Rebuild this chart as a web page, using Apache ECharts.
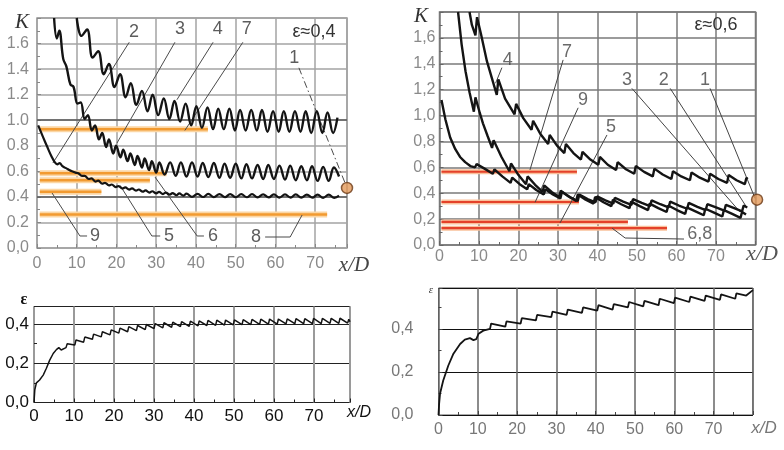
<!DOCTYPE html>
<html>
<head>
<meta charset="utf-8">
<title>K, ε — x/D</title>
<script src="https://cdn.jsdelivr.net/npm/echarts@6/dist/echarts.min.js"></script>
<style>body{margin:0;background:#fff}#main{width:784px;height:450px}</style>
</head>
<body>
<div id="main"></div>
<script>
// ---------- tick labels ----------
var xTicks = [0, 10, 20, 30, 40, 50, 60, 70];
var xTickLabels = ['0', '10', '20', '30', '40', '50', '60', '70'];
var kTicks = [0, 0.2, 0.4, 0.6, 0.8, 1.0, 1.2, 1.4, 1.6];
var kLabelsL = ['0,0', '0.2', '0.4', '0.6', '0.8', '1.0', '1.2', '1.4', '1.6'];
var kLabelsR = ['0,0', '0,2', '0,4', '0,6', '0,8', '1,0', '1,2', '1,4', '1,6'];
var epsTicks = [0, 0.2, 0.4];
var epsLabels = ['0,0', '0,2', '0,4'];

// ---------- top left, ε≈0,4 : K(x/D) ----------
var tlCurveUpper = [[10.0,1.80],[11.2,1.66],[12.6,1.71],[14.0,1.49],[15.4,1.54],[16.8,1.36],[18.1,1.44],[19.5,1.26],[20.9,1.36],[22.3,1.18],[23.6,1.29],[25.0,1.12],[26.4,1.23],[27.8,1.07],[29.1,1.20],[30.5,1.04],[31.9,1.17],[33.3,1.01],[34.6,1.15],[36.0,0.99],[37.4,1.13],[38.8,0.96],[40.1,1.11],[41.5,0.94],[42.9,1.10],[44.3,0.93],[45.6,1.09],[47.0,0.93],[48.4,1.09],[49.8,0.92],[51.1,1.08],[52.5,0.92],[53.9,1.08],[55.3,0.92],[56.6,1.08],[58.0,0.91],[59.4,1.07],[60.8,0.91],[62.1,1.07],[63.5,0.91],[64.9,1.07],[66.3,0.91],[67.6,1.07],[69.0,0.90],[70.4,1.07],[71.8,0.90],[73.1,1.06],[74.5,0.90],[75.6,1.02]];
var tlCurveMiddle = [[4.3,1.80],[5.0,1.64],[5.6,1.70],[6.6,1.48],[7.4,1.42],[8.4,1.28],[9.2,1.26],[10.2,1.13],[11.0,1.14],[12.0,1.01],[12.8,1.04],[13.8,0.92],[14.6,0.96],[15.6,0.85],[16.4,0.90],[17.4,0.79],[18.1,0.85],[19.2,0.74],[19.9,0.80],[21.0,0.71],[21.7,0.77],[22.8,0.68],[23.5,0.74],[24.6,0.65],[25.3,0.72],[26.4,0.63],[27.1,0.70],[28.2,0.61],[28.9,0.68],[30.0,0.59],[30.8,0.67],[32.1,0.575],[33.5,0.67],[34.9,0.565],[36.2,0.67],[37.6,0.56],[39.0,0.67],[40.4,0.56],[41.7,0.665],[43.1,0.555],[44.5,0.665],[45.9,0.55],[47.2,0.66],[48.6,0.55],[50.0,0.66],[51.4,0.545],[52.7,0.655],[54.1,0.545],[55.5,0.65],[56.9,0.54],[58.2,0.65],[59.6,0.54],[61.0,0.645],[62.4,0.535],[63.7,0.645],[65.1,0.53],[66.5,0.64],[67.9,0.53],[69.2,0.64],[70.6,0.525],[72.0,0.635],[73.4,0.525],[74.7,0.63],[76.0,0.56]];
var tlCurveLower = [[0.3,0.96],[1.5,0.87],[2.6,0.79],[3.6,0.72],[4.5,0.67],[5.1,0.655],[5.7,0.665],[6.4,0.64],[7.3,0.625],[8.1,0.61],[8.8,0.60],[9.7,0.59],[10.4,0.585],[11.3,0.565],[12.0,0.565],[13.0,0.54],[13.7,0.545],[14.7,0.52],[15.4,0.527],[16.4,0.503],[17.1,0.51],[18.1,0.49],[18.8,0.497],[19.8,0.477],[20.5,0.485],[21.5,0.466],[22.2,0.474],[23.2,0.457],[23.9,0.466],[24.9,0.449],[25.6,0.458],[26.6,0.441],[27.3,0.451],[28.3,0.434],[29.0,0.444],[30.0,0.428],[30.7,0.439],[31.7,0.422],[32.4,0.434],[33.4,0.417],[34.1,0.43],[35.1,0.413],[35.8,0.427],[36.8,0.41],[37.6,0.425],[39.0,0.40],[40.4,0.424],[41.8,0.399],[43.1,0.423],[44.5,0.398],[45.9,0.422],[47.3,0.398],[48.6,0.422],[50.0,0.397],[51.4,0.421],[52.8,0.397],[54.1,0.421],[55.5,0.396],[56.9,0.42],[58.3,0.396],[59.6,0.42],[61.0,0.395],[62.4,0.419],[63.8,0.395],[65.1,0.419],[66.5,0.394],[67.9,0.418],[69.3,0.394],[70.6,0.418],[72.0,0.393],[73.4,0.417],[74.8,0.393],[76.0,0.41]];
// horizontal levels: [K, from x/D, to x/D]
var tlLevels = [[0.93,0.7,43.0],[0.585,0.7,32.6],[0.53,0.7,28.4],[0.44,0.7,16.2],[0.262,0.7,73.0]];
var tlDot = [78.0, 0.47];
// callouts: label, label point, leader path (data units)
var tlNotes = [
  ['2', [24.4,1.69], [[23.2,1.61],[4.0,0.665]]],
  ['3', [36.0,1.71], [[34.7,1.61],[20.1,0.82]]],
  ['4', [45.5,1.71], [[44.3,1.61],[35.2,1.16]]],
  ['7', [52.8,1.71], [[51.8,1.61],[37.2,0.92]]],
  ['1', [64.7,1.49], [[65.9,1.41],[77.5,0.51]]],
  ['9', [14.6,0.094], [[12.6,0.094],[10.8,0.094],[3.8,0.43]]],
  ['5', [33.2,0.094], [[31.0,0.094],[28.9,0.094],[20.9,0.49]]],
  ['6', [44.3,0.094], [[42.0,0.094],[40.3,0.094],[29.7,0.555]]],
  ['8', [55.1,0.086], [[57.4,0.086],[63.7,0.086],[66.7,0.258]]]
];

// ---------- top right, ε≈0,6 : K(x/D) ----------
var trCurveUpper = [[7.6,1.80],[8.2,1.70],[9.1,1.62],[9.5,1.76],[10.5,1.63],[12.0,1.42],[14.5,1.16],[14.9,1.28],[16.6,1.13],[19.0,1.01],[19.4,1.09],[21.2,0.98],[23.3,0.89],[23.7,0.96],[25.5,0.86],[27.5,0.78],[27.9,0.85],[29.7,0.77],[31.6,0.71],[32.0,0.78],[33.9,0.71],[35.8,0.66],[36.2,0.72],[38.2,0.66],[40.2,0.62],[40.6,0.68],[42.6,0.62],[44.7,0.58],[45.1,0.64],[47.2,0.585],[49.3,0.55],[49.7,0.61],[51.8,0.565],[54.0,0.53],[54.4,0.59],[56.5,0.545],[58.7,0.51],[59.1,0.57],[61.2,0.53],[63.4,0.50],[63.8,0.56],[65.9,0.52],[68.1,0.49],[68.5,0.55],[70.6,0.51],[72.8,0.48],[73.2,0.54],[75.2,0.50],[77.3,0.47],[77.7,0.52],[78.0,0.51]];
var trCurveFromZero = [[0.5,1.12],[1.5,0.97],[2.7,0.83],[4.0,0.74],[5.2,0.68],[6.5,0.64],[7.8,0.61],[9.0,0.60],[9.4,0.625],[11.4,0.59],[13.5,0.55],[13.9,0.585],[15.9,0.53],[18.0,0.48],[18.4,0.52],[20.3,0.47],[22.2,0.43],[22.6,0.47],[24.5,0.425],[26.4,0.39],[26.8,0.43],[28.7,0.39],[30.6,0.36],[31.0,0.41],[33.0,0.37],[35.0,0.34],[35.4,0.39],[37.5,0.355],[39.5,0.33],[39.9,0.375],[42.0,0.345],[44.0,0.32],[44.4,0.365],[46.5,0.335],[48.6,0.31],[49.0,0.355],[51.2,0.325],[53.3,0.30],[53.7,0.345],[55.9,0.315],[58.0,0.29],[58.4,0.335],[60.6,0.305],[62.7,0.28],[63.1,0.325],[65.3,0.295],[67.4,0.27],[67.8,0.315],[70.0,0.29],[72.1,0.265],[72.5,0.31],[74.6,0.285],[76.6,0.26],[77.0,0.305],[77.9,0.29]];
var trCurveMiddle = [[4.7,1.80],[5.6,1.55],[6.6,1.34],[7.6,1.18],[8.7,1.03],[9.1,1.14],[10.2,1.02],[11.0,0.94],[12.2,0.84],[13.3,0.75],[13.7,0.81],[15.7,0.68],[17.7,0.57],[18.1,0.63],[20.0,0.54],[21.9,0.47],[22.3,0.53],[24.2,0.465],[26.1,0.41],[26.5,0.46],[28.4,0.41],[30.3,0.37],[30.7,0.42],[32.7,0.375],[34.6,0.34],[35.0,0.39],[37.0,0.35],[39.0,0.32],[39.4,0.37],[41.5,0.33],[43.5,0.30],[43.9,0.35],[46.0,0.315],[48.1,0.285],[48.5,0.335],[50.7,0.30],[52.8,0.27],[53.2,0.32],[55.4,0.285],[57.5,0.255],[57.9,0.305],[60.1,0.27],[62.2,0.24],[62.6,0.29],[64.8,0.26],[66.9,0.23],[67.3,0.28],[69.5,0.25],[71.6,0.22],[72.0,0.27],[74.1,0.24],[76.2,0.21],[76.6,0.255],[77.6,0.235]];
var trLevels = [[0.566,0.5,34.8],[0.332,0.5,35.3],[0.178,0.5,47.7],[0.13,0.5,57.6]];
var trDot = [80.4, 0.35];
var trNotes = [
  ['4', [17.3,1.43], [[15.8,1.37],[14.2,1.25]]],
  ['7', [32.3,1.49], [[31.3,1.43],[22.9,0.58]]],
  ['9', [36.3,1.12], [[35.1,1.06],[24.2,0.33]]],
  ['5', [43.4,0.91], [[42.4,0.85],[30.5,0.17]]],
  ['3', [47.5,1.275], [[48.7,1.21],[76.1,0.255]]],
  ['2', [56.8,1.275], [[58.4,1.21],[77.8,0.29]]],
  ['1', [67.2,1.275], [[68.5,1.21],[79.9,0.36]]],
  ['6,8', [65.9,0.085], [[61.9,0.046],[47.0,0.054],[43.7,0.13]]]
];

// ---------- bottom left : ε(x/D), ε≈0,4 ----------
var blEps = [[0,0],[0.2,0.065],[0.6,0.10],[1.4,0.115],[2.3,0.14],[3.1,0.175],[3.9,0.215],[4.8,0.25],[5.6,0.27],[6.2,0.28],[6.8,0.268],[8.0,0.28],[8.3,0.30],[10.2,0.293],[10.5,0.319],[12.4,0.308],[12.7,0.334],[14.6,0.323],[14.9,0.349],[16.8,0.335],[17.1,0.361],[19.0,0.345],[19.3,0.371],[21.2,0.354],[21.5,0.38],[23.4,0.361],[23.7,0.387],[25.6,0.367],[25.9,0.393],[27.8,0.372],[28.1,0.398],[30.0,0.377],[30.3,0.403],[32.2,0.381],[32.5,0.407],[34.4,0.384],[34.7,0.41],[36.6,0.387],[36.9,0.413],[38.8,0.389],[39.1,0.415],[41.0,0.391],[41.3,0.417],[43.2,0.393],[43.5,0.419],[45.4,0.394],[45.7,0.42],[47.6,0.395],[47.9,0.421],[49.8,0.396],[50.1,0.422],[52.0,0.397],[52.3,0.423],[54.2,0.398],[54.5,0.424],[56.4,0.399],[56.7,0.425],[58.6,0.40],[58.9,0.426],[60.8,0.40],[61.1,0.426],[63.0,0.401],[63.3,0.427],[65.2,0.402],[65.5,0.428],[67.4,0.402],[67.7,0.428],[69.6,0.403],[69.9,0.429],[71.8,0.403],[72.1,0.429],[74.0,0.404],[74.3,0.43],[76.2,0.404],[76.5,0.43],[78.4,0.405],[78.7,0.425],[79.0,0.412]];

// ---------- bottom right : ε(x/D), ε≈0,6 ----------
var brEps = [[0,0],[0.15,0.05],[0.4,0.10],[1.2,0.16],[2.5,0.23],[3.8,0.285],[5.5,0.33],[6.7,0.35],[8.0,0.357],[8.9,0.348],[9.6,0.352],[10.2,0.378],[11.4,0.392],[13.1,0.40],[13.4,0.425],[15.2,0.418],[17.0,0.41],[17.3,0.435],[20.9,0.425],[21.2,0.45],[24.8,0.44],[25.1,0.465],[28.7,0.455],[29.0,0.48],[32.6,0.465],[32.9,0.49],[36.5,0.475],[36.8,0.50],[40.4,0.485],[40.7,0.51],[44.3,0.49],[44.6,0.515],[48.2,0.50],[48.5,0.525],[52.1,0.505],[52.4,0.53],[56.0,0.51],[56.3,0.54],[59.9,0.52],[60.2,0.545],[63.8,0.525],[64.1,0.55],[67.7,0.53],[68.0,0.555],[71.6,0.535],[71.9,0.56],[75.5,0.54],[75.8,0.565],[78.3,0.555],[80.0,0.58]];

var SANS = '"Liberation Sans", Arial, sans-serif';
var SERIF = '"Liberation Serif", "Times New Roman", serif';

function pick(ticks, labels) {
  return function (v) {
    for (var i = 0; i < ticks.length; i++) {
      if (Math.abs(ticks[i] - v) < 1e-6) return labels[i];
    }
    return '';
  };
}

function xAx(g, max, c) {
  return {
    type: 'value', gridIndex: g, min: 0, max: max, interval: 10,
    axisLine: {show: false},
    axisTick: {show: true, inside: true, length: 4, lineStyle: {color: c.tick}},
    minorTick: {show: true, splitNumber: 2, length: 3, lineStyle: {color: c.tick}},
    axisLabel: {formatter: pick(xTicks, xTickLabels), color: c.label, fontSize: c.size,
      fontFamily: SANS, margin: c.margin},
    splitLine: {show: true, lineStyle: {color: c.grid, width: c.gridW}}
  };
}

function yAx(g, max, ticks, labels, c) {
  return {
    type: 'value', gridIndex: g, min: 0, max: max, interval: 0.2,
    axisLine: {show: false},
    axisTick: {show: true, inside: true, length: 4, lineStyle: {color: c.tick}},
    minorTick: {show: true, splitNumber: 2, length: 3, lineStyle: {color: c.tick}},
    axisLabel: {formatter: pick(ticks, labels), color: c.label, fontSize: c.size,
      fontFamily: SANS, margin: c.margin},
    splitLine: {show: true, lineStyle: {color: c.hgrid || c.grid, width: c.hgridW || c.gridW}}
  };
}

function curve(g, data, w, smooth) {
  return {type: 'line', xAxisIndex: g, yAxisIndex: g, data: data, showSymbol: false,
    smooth: smooth, lineStyle: {color: '#141414', width: w}, z: 5};
}

function levelSeries(g, levels, halo, core, hw, cw) {
  var out = [];
  levels.forEach(function (l) {
    var d = [[l[1], l[0]], [l[2], l[0]]];
    out.push({type: 'line', xAxisIndex: g, yAxisIndex: g, data: d, showSymbol: false,
      lineStyle: {color: halo, width: hw}, z: 3});
    out.push({type: 'line', xAxisIndex: g, yAxisIndex: g, data: d, showSymbol: false,
      lineStyle: {color: core, width: cw}, z: 3});
  });
  return out;
}

function noteSeries(g, notes, lineColor, textColor, dashFirst) {
  var out = [];
  notes.forEach(function (n) {
    out.push({type: 'line', xAxisIndex: g, yAxisIndex: g, data: n[2], showSymbol: false,
      lineStyle: {color: lineColor, width: 1,
        type: (dashFirst && n[0] === dashFirst) ? [7, 3, 1.5, 3] : 'solid'}, z: 4});
  });
  out.push({type: 'scatter', xAxisIndex: g, yAxisIndex: g, symbolSize: 0, z: 6,
    data: notes.map(function (n) { return {name: n[0], value: n[1]}; }),
    label: {show: true, position: 'inside', formatter: '{b}', color: textColor,
      fontSize: 18, fontFamily: SANS}});
  return out;
}

function dot(g, p) {
  return {type: 'scatter', xAxisIndex: g, yAxisIndex: g, data: [p], symbolSize: 11, clip: false,
    itemStyle: {color: '#e49a5a', borderColor: '#6b3a17', borderWidth: 1.5}, z: 7};
}

var cTL = {tick: '#888', label: '#8a8a8a', size: 16, margin: 8, grid: '#a3a3a3', gridW: 1.5};
var cTR = {tick: '#666', label: '#8a8a8a', size: 16, margin: 4, grid: '#7a7a7a', gridW: 1.5};
var cBL = {tick: '#222', label: '#111', size: 17, margin: 5, grid: '#9a9a9a', gridW: 2,
  hgrid: '#222', hgridW: 1};
var cBR = {tick: '#444', label: '#777', size: 16, margin: 7, grid: '#666', gridW: 1.5,
  hgrid: '#111', hgridW: 1};
var cBRy = {tick: '#444', label: '#777', size: 16, margin: 25, grid: '#666', gridW: 1.5,
  hgrid: '#111', hgridW: 1};

var series = [];
series = series.concat(levelSeries(0, tlLevels, '#fbd6a4', '#f29a30', 6, 2.5));
series.push({type: 'line', xAxisIndex: 0, yAxisIndex: 0, data: [], silent: true,
  markLine: {silent: true, symbol: 'none', label: {show: false},
    lineStyle: {color: '#5a5a5a', width: 1.5, type: 'solid'},
    data: [{yAxis: 1.0}, {yAxis: 0.4}]}});
series.push(curve(0, tlCurveUpper, 2.4, 0.4));
series.push(curve(0, tlCurveMiddle, 2.4, 0.4));
series.push(curve(0, tlCurveLower, 2.2, 0.4));
series = series.concat(noteSeries(0, tlNotes, '#4a4a4a', '#333', '1'));
series.push(dot(0, tlDot));

series = series.concat(levelSeries(1, trLevels, '#f9c09a', '#e4412a', 5, 2.2));
series.push(curve(1, trCurveUpper, 2.4, false));
series.push(curve(1, trCurveFromZero, 2.4, false));
series.push(curve(1, trCurveMiddle, 2.4, false));
series = series.concat(noteSeries(1, trNotes, '#444', '#444', null));
series.push(dot(1, trDot));

series.push(curve(2, blEps, 1.5, false));
series.push(curve(3, brEps, 1.8, false));

function txt(x, y, s, font, color) {
  return {type: 'text', x: x, y: y, silent: true, z: 100,
    style: {text: s, font: font, fill: color, align: 'center', verticalAlign: 'middle',
      textAlign: 'center', textVerticalAlign: 'middle'}};
}

var chart = echarts.init(document.getElementById('main'), null, {renderer: 'canvas'});
chart.setOption({
  animation: false,
  backgroundColor: '#fff',
  grid: [
    {left: 37, top: 18, width: 310, height: 230, show: true, borderColor: '#9a9a9a', borderWidth: 1.5},
    {left: 439.5, top: 12, width: 316, height: 233, show: true, borderColor: '#777', borderWidth: 1.5},
    {left: 34, top: 306.5, width: 316, height: 96, show: true, borderColor: '#222', borderWidth: 1},
    {left: 438.5, top: 288, width: 314.4, height: 127, show: true, borderColor: '#555', borderWidth: 1}
  ],
  xAxis: [xAx(0, 78, cTL), xAx(1, 80, cTR), xAx(2, 79, cBL), xAx(3, 80, cBR)],
  yAxis: [
    yAx(0, 1.8, kTicks, kLabelsL, cTL),
    yAx(1, 1.8, kTicks, kLabelsR, cTR),
    yAx(2, 0.49, epsTicks, epsLabels, cBL),
    yAx(3, 0.59, epsTicks, epsLabels, cBRy)
  ],
  series: series,
  graphic: [
    txt(22, 22, 'K', 'italic 21px ' + SERIF, '#333'),
    txt(354, 265, 'x/D', 'italic 21px ' + SERIF, '#444'),
    txt(314, 32, 'ε≈0,4', '18px ' + SANS, '#333'),
    txt(421, 16, 'K', 'italic 21px ' + SERIF, '#333'),
    txt(762, 254, 'x/D', 'italic 22px ' + SERIF, '#555'),
    txt(716, 25, 'ε≈0,6', '18px ' + SANS, '#333'),
    txt(24, 300, 'ε', 'bold 16px ' + SERIF, '#111'),
    txt(359, 413, 'x/D', 'italic 16px ' + SANS, '#111'),
    txt(431, 290, 'ε', 'italic 11px ' + SERIF, '#444'),
    txt(764, 428, 'x/D', 'italic 17px ' + SANS, '#777')
  ]
});
</script>
</body>
</html>
